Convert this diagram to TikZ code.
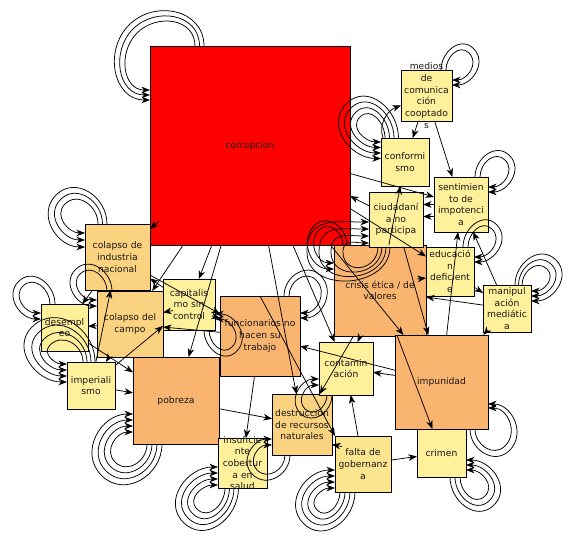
\documentclass[tikz,border=0pt]{standalone}
\usepackage{fontspec}
\newfontfamily\df{DejaVu Sans}
\usetikzlibrary{arrows.meta,calc}
\definecolor{cred}{RGB}{255,0,0}
\definecolor{corg}{RGB}{249,180,112}
\definecolor{clor}{RGB}{250,210,128}
\definecolor{cyel}{RGB}{255,240,155}
\definecolor{cfal}{RGB}{253,228,142}
\tikzset{
 box/.style={draw=black,line width=0.8pt,inner sep=0pt,outer sep=0pt},
 lbl/.style={inner sep=0pt,align=center,font=\df\fontsize{9.2}{11.7}\selectfont,text=black!90},
 ar/.style={line width=0.75pt,-{Stealth[length=8.5pt,width=6.5pt,inset=2.5pt]}},
 lp/.style={ar}
}
\newcommand\bx[7]{\node[box,fill=#6,minimum width=#4pt,minimum height=#5pt] (#1) at (#2,#3) {};
 \node[lbl] (#1-t) at (#1) {#7};}
% #1 n, #2 corner, #3 hx, #4 vy (pixel signs), #5 a, #6 b, #7 m
\newcommand\loopfam[7]{\foreach \k in {0,...,#1}{%
 \pgfmathsetmacro\lA{#5}\pgfmathsetmacro\lB{#6}\pgfmathsetmacro\lM{#7}%
 \pgfmathsetmacro\lth{atan2(#4,#3)}\pgfmathsetmacro\lthb{\lth+180}%
 \pgfmathsetmacro\loS{180+90*(#4)}\pgfmathsetmacro\liE{90-90*(#3)}%
 \draw[lp] ($(#2)+({-(#3)*\lA},0)$) to[out=\loS,in=\lthb,looseness=1.2] ($(#2)+({(#3)*\lM},{(#4)*\lM})$) to[out=\lth,in=\liE,looseness=1.2] ($(#2)+(0,{-(#4)*\lB})$);}}
\begin{document}
\begin{tikzpicture}[x=1pt,y=-1pt]
\useasboundingbox (0,0) rectangle (578,545);
\bx{corr}{250}{145.5}{200}{199}{cred}{corrupcion}
\bx{crisis}{380}{290.5}{92}{91}{corg}{crisis ética / de\\valores}
\bx{impun}{441.5}{382}{93}{94}{corg}{impunidad}
\bx{func}{260}{336}{80}{80}{corg}{funcionarios no\\hacen su\\trabajo}
\bx{pobreza}{176}{400.5}{86}{87}{corg}{pobreza}
\bx{indus}{117.5}{257}{65}{66}{clor}{colapso de\\industria\\nacional}
\bx{campo}{130}{324}{66}{66}{clor}{colapso del\\campo}
\bx{destr}{302}{424.5}{60}{61}{clor}{destrucción\\de recursos\\naturales}
\bx{medios}{426.5}{95.5}{51}{51}{cyel}{medios\\de\\comunica\\ción\\cooptado\\s}
\bx{conf}{405}{162}{48}{48}{cyel}{conformi\\smo}
\bx{sent}{461}{204.5}{54}{55}{cyel}{sentimien\\to de\\impotenci\\a}
\bx{ciud}{396}{219.5}{54}{55}{cyel}{ciudadaní\\a no\\participa}
\bx{educ}{450}{271.5}{48}{49}{cyel}{educació\\n\\deficient\\e}
\bx{manip}{507}{308.5}{48}{47}{cyel}{manipul\\ación\\mediátic\\a}
\bx{contam}{346}{368.5}{54}{53}{cyel}{contamin\\ación}
\bx{crimen}{441.5}{453}{49}{48}{cyel}{crimen}
\bx{falta}{363}{464}{56}{56}{cfal}{falta de\\gobernanz\\a}
\bx{insuf}{242.5}{463}{49}{50}{cyel}{insuficie\\nte\\cobertur\\a en\\salud}
\bx{imper}{91}{385.5}{48}{47}{cyel}{imperiali\\smo}
\bx{desemp}{64.5}{327.5}{47}{47}{cyel}{desempl\\eo}
\bx{capit}{189}{304.5}{52}{51}{cyel}{capitalis\\mo sin\\control}
% edges
\draw[ar] ($(indus.north east)+(9,-3)$) -- ($(indus.north east)+(0,5)$);
\draw[ar] (corr) -- (capit);
\draw[ar] (corr) -- (campo);
\draw[ar] (corr) -- (pobreza);
\draw[ar] (corr) -- (destr);
\draw[ar] (corr) -- (contam);
\draw[ar] (corr) -- (sent);
\draw[ar] (ciud) -- (corr);
\draw[ar] (corr) -- (educ);
\draw[ar] (corr) -- (impun);
\draw[ar] (medios) -- (conf);
\draw[ar] (medios) -- (sent);
\draw[ar] (crisis) -- (conf);
\draw[ar] (ciud) -- (impun);
\draw[ar] (crisis) -- (crimen);
\draw[ar] (crisis) -- (destr);
\draw[ar] (crisis) -- (contam);
\draw[ar] ($(educ.south west)+(-9,-17)$) -- ($(educ.south west)+(0,-18)$);
\draw[ar] (manip) -- (crisis);
\draw[ar] (manip) -- (sent);
\draw[ar] (educ) -- (manip);
\draw[ar] (manip) -- (impun);
\draw[ar] (impun) -- (sent);
\draw[ar] (impun) -- (contam);
\draw[ar] (impun) -- (func);
\draw[ar] (falta) -- (crimen);
\draw[ar] (falta) -- (contam);
\draw[ar] (func.north) -- (falta.north west);
\draw[ar] (func) -- (insuf);
\draw[ar] (pobreza) -- (destr);
\draw[ar] (imper) -- (pobreza);
\draw[ar] (desemp) -- (pobreza);
\draw[ar] (imper) -- (capit);
\draw[ar] ($(capit.west)+(10,6)$) -- ($(capit.west)+(0,8)$);
\draw[ar] (func) -- (campo);
\draw[ar] (campo) -- (desemp);
\draw[ar] (campo) -- (imper);
\draw[ar] (indus) -- (desemp);
\draw[ar] ($(func.west)+(-8,-20)$) -- ($(func.west)+(0,-18)$);
\draw[ar] (indus) -- (func);
\draw[ar] (capit) -- (indus);
\draw[ar] (imper) -- (indus);
\draw[ar] (sent.west) -- (sent.west -| ciud.east);
\draw[ar] ($(sent.west)+(0,12)$) -- ($(sent.west -| ciud.east)+(0,12)$);
\draw[ar] ($(destr.east)+(10,22)$) -- ($(destr.east)+(0,20)$);
\draw[ar] ($(conf.north west)+(2,0)$) to[out=110,in=200] ($(medios.west)+(0,10)$);
% self loops
\loopfam{2}{corr.north west}{-1}{-1}{45+4.5*\k}{44+5*\k}{13+4*\k}
\loopfam{2}{indus.north west}{-1}{-1}{13+4.5*\k}{9+7*\k}{20+4.5*\k}
\loopfam{1}{medios.north east}{1}{-1}{6+5*\k}{10+5*\k}{17+4.5*\k}
\loopfam{3}{conf.north west}{-1}{-1}{4+4.5*\k}{4+5.5*\k}{21+4.5*\k}
\loopfam{1}{sent.north east}{1}{-1}{8+5*\k}{10+5*\k}{17+4.5*\k}
\loopfam{1}{educ.north east}{1}{-1}{6+5*\k}{10+5*\k}{18+4.5*\k}
\loopfam{2}{manip.north east}{1}{-1}{9+3.5*\k}{6+5*\k}{16+4.5*\k}
\loopfam{1}{impun.south east}{1}{1}{13+5*\k}{21+4*\k}{17+4.5*\k}
\loopfam{2}{crimen.south east}{1}{1}{6+5*\k}{7+5*\k}{19+4.5*\k}
\loopfam{3}{falta.south west}{-1}{1}{5+5*\k}{4+6*\k}{18+4.5*\k}
\loopfam{3}{insuf.south west}{-1}{1}{7+4.5*\k}{3+6*\k}{21+4.5*\k}
\loopfam{3}{pobreza.south west}{-1}{1}{14+5*\k}{12+6*\k}{18+4.5*\k}
\loopfam{1}{destr.south west}{-1}{1}{13+5*\k}{10+6*\k}{15+4.5*\k}
\loopfam{1}{contam.south west}{-1}{1}{8+5*\k}{10+6*\k}{14+4.5*\k}
\loopfam{1}{func.north east}{1}{-1}{11+5*\k}{17+5*\k}{16+4.5*\k}
\loopfam{1}{capit.south east}{1}{1}{6+5*\k}{11+5*\k}{17+4.5*\k}
\loopfam{1}{campo.north west}{-1}{-1}{10+5*\k}{9+6*\k}{17+4.5*\k}
\loopfam{1}{desemp.north west}{-1}{-1}{9+5*\k}{9+6*\k}{18+4.5*\k}
\loopfam{3}{imper.north west}{-1}{-1}{16+4*\k}{2+6*\k}{17+6*\k}
\loopfam{1}{crisis.north west}{-1}{-1}{9+4*\k}{18+6*\k}{15+4.5*\k}
\foreach \k in {0,...,3}{\pgfmathsetmacro\da{24+6*\k}\pgfmathsetmacro\db{14+7*\k}
 \draw[lp] ($(ciud.south west)+(9+4*\k,0)$) to[out=270,in=270,distance=\da pt] ($(ciud.south west)+(-26-12*\k,5)$) to[out=90,in=180,distance=\db pt] ($(ciud.south west)+(0,-4-7*\k)$);}
\end{tikzpicture}
\end{document}
